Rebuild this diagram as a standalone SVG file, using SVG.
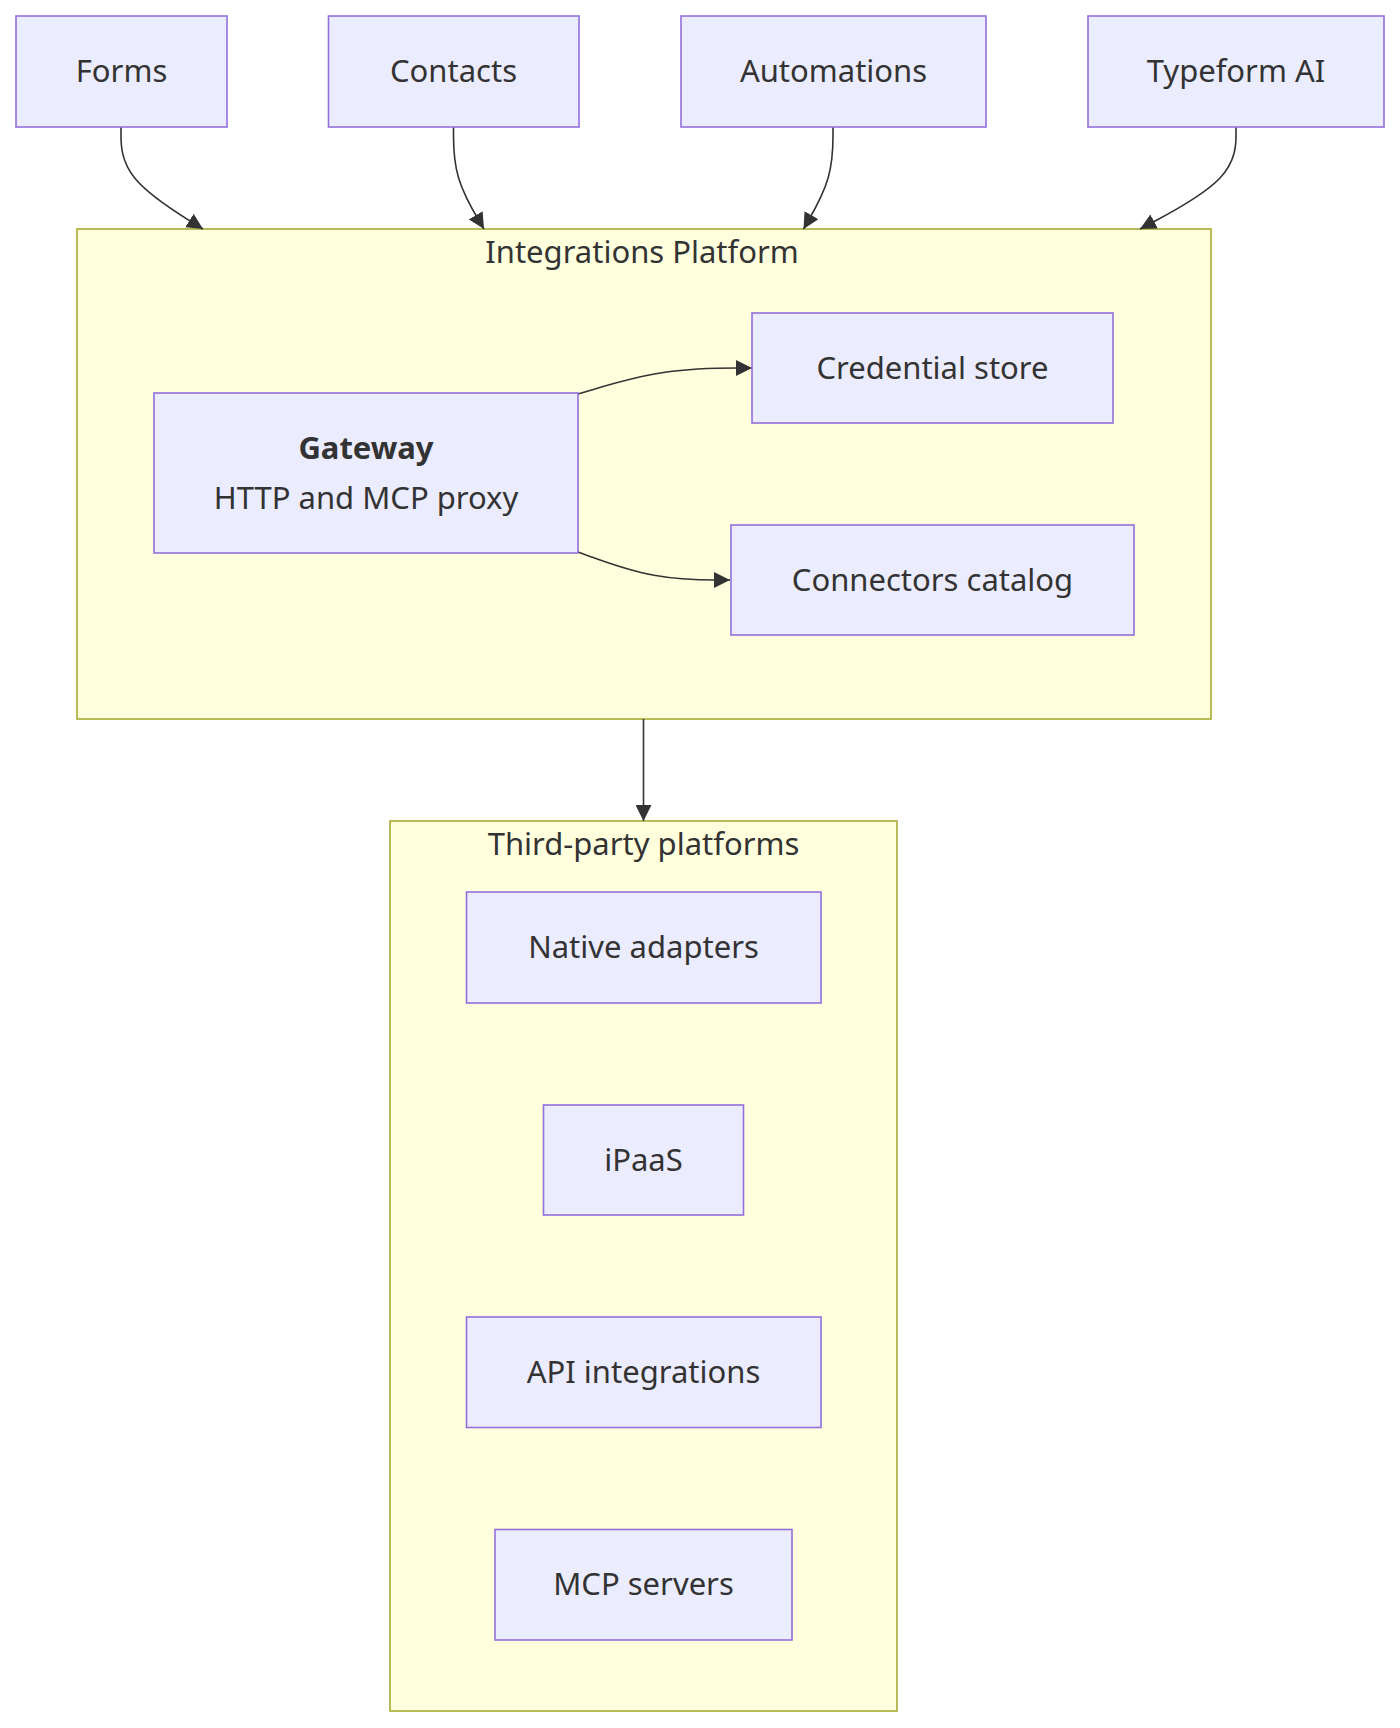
<svg xmlns="http://www.w3.org/2000/svg" width="1400" height="1728" viewBox="0 0 1400 1728">
<style>
.node rect{fill:#ECECFF;stroke:#9370DB;stroke-width:1.6}
.cluster rect{fill:#FFFFDE;stroke:#AAAA33;stroke-width:1.6}
text{font-family:"Noto Sans","DejaVu Sans",sans-serif;font-size:31px;fill:#333333;text-anchor:middle}
.b{font-weight:bold}
.edges path{fill:none;stroke:#333333;stroke-width:1.6}
</style>
<defs>
<marker id="arrow" viewBox="0 0 10 10" refX="10" refY="5" markerWidth="16" markerHeight="16" markerUnits="userSpaceOnUse" orient="auto">
<path d="M0,0 L10,5 L0,10 z" fill="#333333"/>
</marker>
</defs>
<rect width="1400" height="1728" fill="#ffffff"/>
<g id="cluster-integrations" class="cluster">
<rect x="77" y="229" width="1134" height="490"/>
<text x="642" y="263">Integrations Platform</text>
</g>
<g id="cluster-thirdparty" class="cluster">
<rect x="390" y="821" width="507" height="890"/>
<text x="643.5" y="855">Third-party platforms</text>
</g>
<g class="edges">
<path marker-end="url(#arrow)" d="M121,127 L121,135.5 C121,144 121,161 134.7,178 C148.3,195 175.7,212 189.3,220.5 L203,229"/>
<path marker-end="url(#arrow)" d="M453.5,127 L453.5,135.5 C453.5,144 453.5,161 458.6,178 C463.7,195 473.8,212 478.9,220.5 L484,229"/>
<path marker-end="url(#arrow)" d="M833,127 L833,135.5 C833,144 833,161 828.1,178 C823.2,195 813.3,212 808.4,220.5 L803.5,229"/>
<path marker-end="url(#arrow)" d="M1236,127 L1236,135.5 C1236,144 1236,161 1220,178 C1204,195 1172,212 1156,220.5 L1140,229"/>
<path marker-end="url(#arrow)" d="M578,394 L592.5,389.7 C607,385.3 636,376.7 665,372.3 C694,368 723,368 737.5,368 L752,368"/>
<path marker-end="url(#arrow)" d="M578,552 L590.7,556.7 C603.3,561.3 628.7,570.7 654,575.3 C679.3,580 704.7,580 717.3,580 L730,580"/>
<path marker-end="url(#arrow)" d="M643.5,719 L643.5,821"/>
</g>
<g id="forms" class="node"><rect x="16" y="16" width="211" height="111"/><text x="121.5" y="82">Forms</text></g>
<g id="contacts" class="node"><rect x="328.5" y="16" width="250.5" height="111"/><text x="453.5" y="82">Contacts</text></g>
<g id="automations" class="node"><rect x="681" y="16" width="305" height="111"/><text x="833.5" y="82">Automations</text></g>
<g id="typeformai" class="node"><rect x="1088" y="16" width="296" height="111"/><text x="1236" y="82">Typeform AI</text></g>
<g id="gateway" class="node"><rect x="154" y="393" width="424" height="160"/><text class="b" x="366" y="459">Gateway</text><text x="366" y="509">HTTP and MCP proxy</text></g>
<g id="credential" class="node"><rect x="752" y="313" width="361" height="110"/><text x="932.5" y="378.5">Credential store</text></g>
<g id="connectors" class="node"><rect x="731" y="525" width="403" height="110"/><text x="932.5" y="590.5">Connectors catalog</text></g>
<g id="native" class="node"><rect x="466.5" y="892" width="354.5" height="111"/><text x="643.5" y="958">Native adapters</text></g>
<g id="ipaas" class="node"><rect x="543.5" y="1105" width="200" height="110"/><text x="643.5" y="1170.5">iPaaS</text></g>
<g id="api" class="node"><rect x="466.5" y="1317" width="354.5" height="110.5"/><text x="643.5" y="1382.5">API integrations</text></g>
<g id="mcp" class="node"><rect x="495" y="1529.5" width="297" height="110.5"/><text x="643.5" y="1595">MCP servers</text></g>
</svg>
